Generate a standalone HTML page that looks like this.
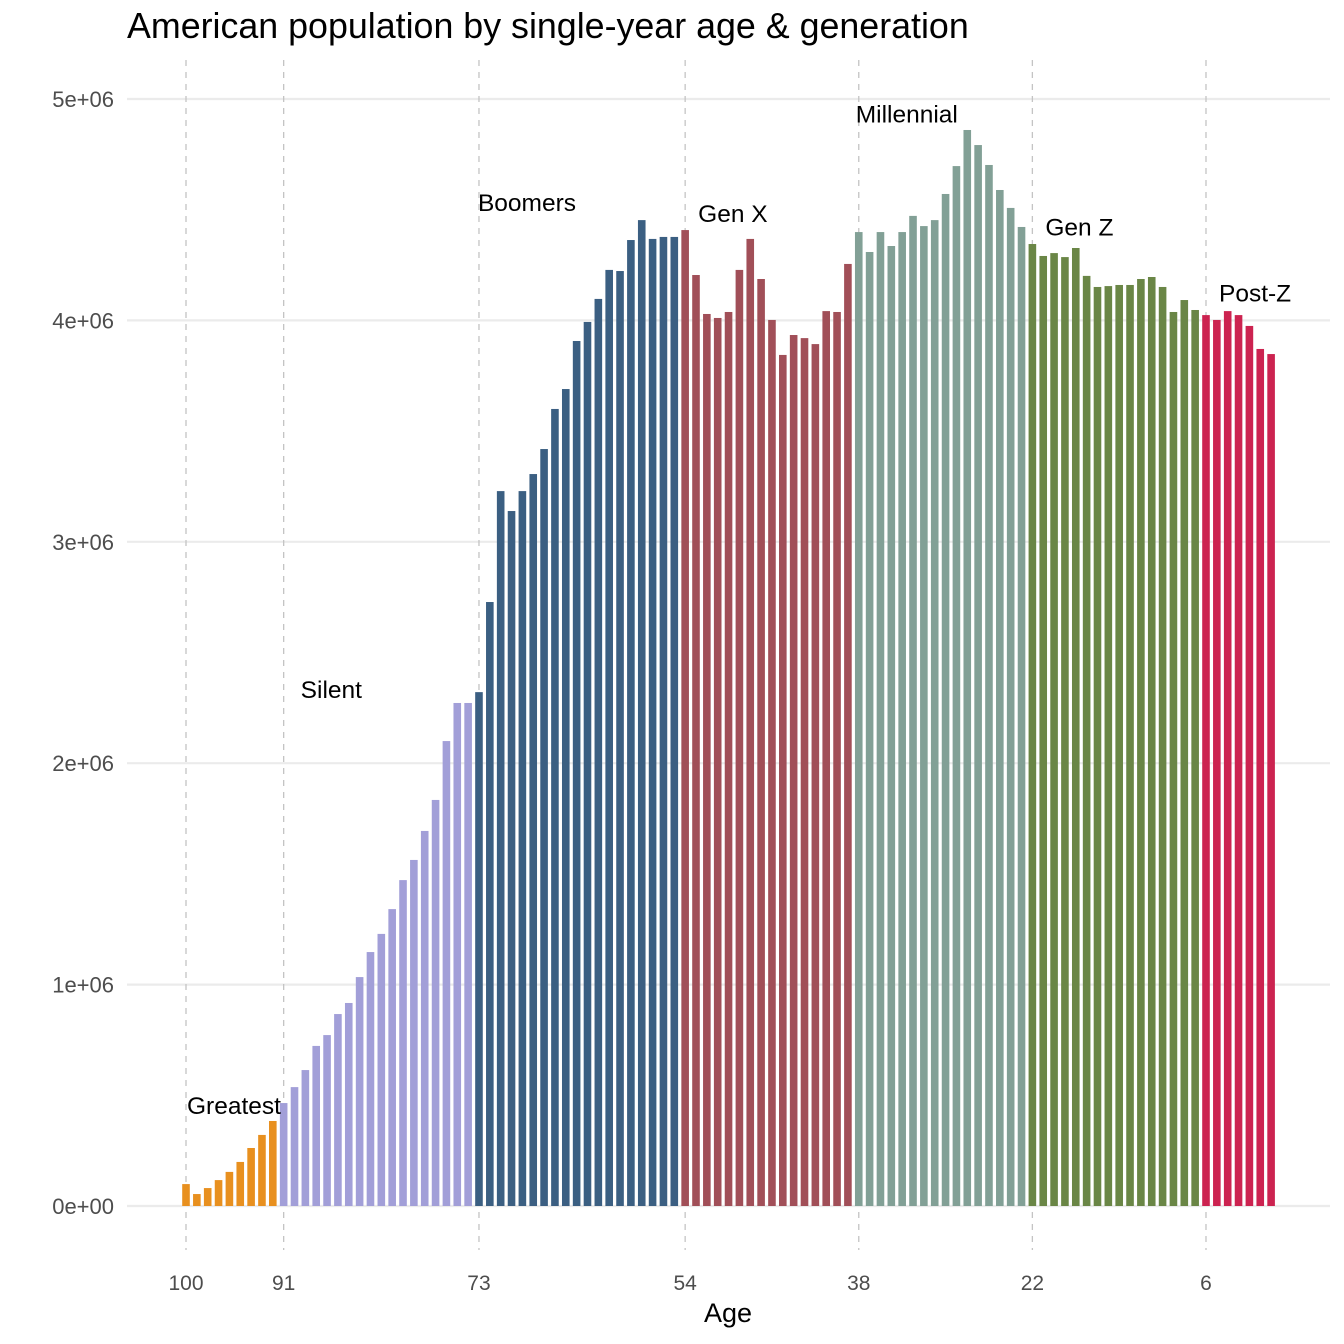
<!DOCTYPE html>
<html><head><meta charset="utf-8"><style>
body{margin:0;background:#fff}
svg{font-family:"Liberation Sans",sans-serif;display:block}
</style></head><body>
<svg id="chart" width="1344" height="1344" viewBox="0 0 1344 1344">
<text x="127" y="38" font-size="35.8" fill="#000">American population by single-year age &amp; generation</text>
<g id="grid"></g><g id="vlines"></g><g id="bars"></g><g id="labels"></g><g id="axes"></g>
<text x="728" y="1322" font-size="27" text-anchor="middle" fill="#000">Age</text>
</svg>
<script>
const ages=[];for(let a=100;a>=0;a--)ages.push(a);
const populations=[0.099,0.054,0.081,0.117,0.154,0.199,0.262,0.321,0.384,0.465,0.537,0.614,0.723,0.772,0.867,0.917,1.034,1.147,1.229,1.341,1.472,1.563,1.694,1.834,2.100,2.272,2.272,2.321,2.728,3.229,3.139,3.229,3.306,3.419,3.600,3.690,3.907,3.993,4.097,4.228,4.223,4.363,4.453,4.368,4.377,4.377,4.408,4.205,4.029,4.011,4.038,4.228,4.368,4.187,4.002,3.844,3.934,3.920,3.893,4.042,4.038,4.255,4.399,4.309,4.399,4.336,4.399,4.472,4.426,4.453,4.571,4.697,4.860,4.792,4.702,4.589,4.508,4.422,4.345,4.291,4.304,4.286,4.327,4.201,4.151,4.155,4.160,4.160,4.187,4.196,4.151,4.038,4.092,4.047,4.024,4.002,4.042,4.024,3.975,3.871,3.848].map(v=>v*1e6);
const genNames=["Greatest","Silent","Boomers","Gen X","Millennial","Gen Z","Post-Z"];
const genStarts=[100,91,73,54,38,22,6];
const genColors=["#E8901F","#A29FD8","#3B5F82","#A14F58","#82A096","#6A8646","#CC2350"];
const labelY=[0.41e6,2.29e6,4.49e6,4.44e6,4.89e6,4.38e6,4.08e6];
const yTicks=[0,1e6,2e6,3e6,4e6,5e6];
const yTickLabels=["0e+00","1e+06","2e+06","3e+06","4e+06","5e+06"];

const NS="http://www.w3.org/2000/svg";
const X=a=>186+(100-a)*10.851;
const Y=v=>1206-v/1e6*221.4;
function mk(tag,attrs,parent,text){const e=document.createElementNS(NS,tag);for(const k in attrs)e.setAttribute(k,attrs[k]);if(text!=null)e.textContent=text;document.getElementById(parent).appendChild(e);return e;}
yTicks.forEach((t,i)=>{
 const l=mk('line',{x1:127,x2:1330,y1:Y(t),y2:Y(t),stroke:'#ebebeb','stroke-width':2.2},'grid');
 
 
 const tx=mk('text',{x:114,y:Y(t)+8,'font-size':22,'text-anchor':'end',fill:'#4d4d4d'},'axes',yTickLabels[i]);
 
 
});
genStarts.forEach((a,i)=>{
 const l=mk('line',{x1:X(a),x2:X(a),y1:60,y2:1250,stroke:'#c4c4c4','stroke-width':1.3,'stroke-dasharray':'6,6'},'vlines');
 
 
 const tx=mk('text',{x:X(a),y:1290,'font-size':21,'text-anchor':'middle',fill:'#4d4d4d'},'axes',String(a));
 
 
 const lb=mk('text',{x:X(a)+(i==1?17:i==0?1:i==2?-1:i==4?-3:13),y:Y(labelY[i])-1,'font-size':24.5,fill:'#000'},'labels',genNames[i]);
 
 
});
ages.forEach((a,i)=>{
 let g=0;for(let j=0;j<genStarts.length;j++)if(a<=genStarts[j])g=j;
 const r=mk('rect',{x:X(a)-3.8,y:Y(populations[i]),width:7.6,height:Y(0)-Y(populations[i]),fill:genColors[g]},'bars');
 
 
});
</script>
</body></html>
